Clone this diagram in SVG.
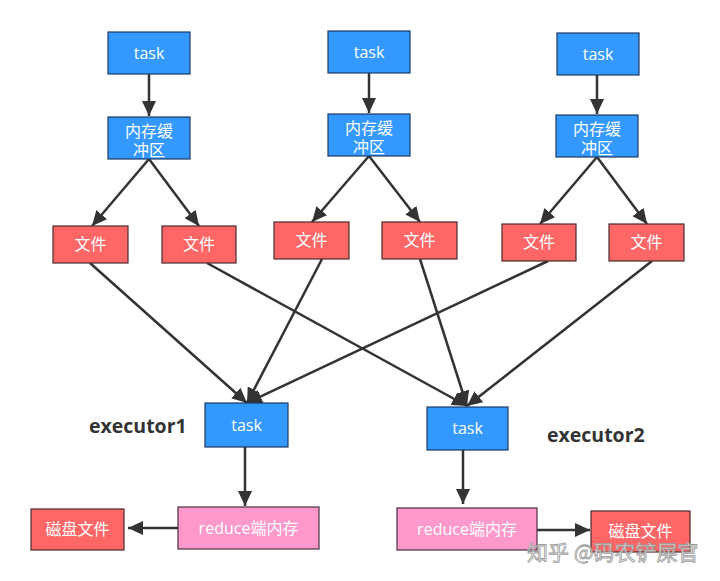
<svg xmlns="http://www.w3.org/2000/svg" width="720" height="581" viewBox="0 0 720 581">
<style>
.b{fill:#3399FF;stroke:#1d3a63;stroke-width:1.2}
.r{fill:#FF6666;stroke:#4a2a2a;stroke-width:1.2}
.p{fill:#FF99CC;stroke:#4a3040;stroke-width:1.2}
.t{font-family:"Open Sans","Noto Sans CJK SC",sans-serif;font-size:16px;fill:#fff;text-anchor:middle}
.lbl{font-family:"Open Sans","Noto Sans CJK SC",sans-serif;font-size:19.5px;font-weight:bold;fill:#333}
.e{stroke:#333;stroke-width:2.5;fill:none;marker-end:url(#ah)}
.wm{font-family:"Noto Sans CJK SC",sans-serif;font-size:21px;fill:#f4f4f4;fill-opacity:0.85;stroke:#9a9a9a;stroke-width:0.8}
</style>
<defs>
<marker id="ah" markerUnits="userSpaceOnUse" markerWidth="16" markerHeight="14" refX="15" refY="7" orient="auto">
<path d="M0,0 L15,7 L0,14 z" fill="#333"/>
</marker>
</defs>
<rect width="720" height="581" fill="#fff"/>
<g id="connectors">
<line class="e" x1="149" y1="74" x2="149" y2="116"/>
<line class="e" x1="369" y1="73" x2="369" y2="113"/>
<line class="e" x1="597" y1="75" x2="597" y2="114"/>
<line class="e" x1="149" y1="159" x2="92" y2="226"/>
<line class="e" x1="149" y1="159" x2="199" y2="226"/>
<line class="e" x1="369" y1="156" x2="312" y2="222"/>
<line class="e" x1="369" y1="156" x2="420" y2="222"/>
<line class="e" x1="597" y1="157" x2="540" y2="224"/>
<line class="e" x1="597" y1="157" x2="647" y2="224"/>
<line class="e" x1="90" y1="263" x2="247" y2="403"/>
<line class="e" x1="322" y1="259" x2="247" y2="403"/>
<line class="e" x1="548" y1="261" x2="247" y2="403"/>
<line class="e" x1="207" y1="263" x2="467" y2="406"/>
<line class="e" x1="420" y1="259" x2="467" y2="406"/>
<line class="e" x1="652" y1="261" x2="467" y2="406"/>
<line class="e" x1="245" y1="447" x2="245" y2="506"/>
<line class="e" x1="463" y1="450" x2="463" y2="504"/>
<line class="e" x1="178" y1="528" x2="128" y2="528"/>
<line class="e" x1="537" y1="530" x2="590" y2="530"/>
</g>
<g id="task1"><rect class="b" x="108" y="32" width="82" height="42"/><text class="t" x="149" y="58.5">task</text></g>
<g id="task2"><rect class="b" x="328" y="31" width="82" height="42"/><text class="t" x="369" y="57.5">task</text></g>
<g id="task3"><rect class="b" x="557" y="33" width="82" height="42"/><text class="t" x="598" y="59.5">task</text></g>
<g id="buffer1"><rect class="b" x="108" y="117" width="82" height="42"/><text class="t" x="149" y="136.5">内存缓</text><text class="t" x="149" y="156">冲区</text></g>
<g id="buffer2"><rect class="b" x="328" y="114" width="82" height="42"/><text class="t" x="369" y="133.5">内存缓</text><text class="t" x="369" y="153">冲区</text></g>
<g id="buffer3"><rect class="b" x="556" y="115" width="82" height="42"/><text class="t" x="597" y="134.5">内存缓</text><text class="t" x="597" y="154">冲区</text></g>
<g id="file1"><rect class="r" x="53" y="226" width="75" height="37"/><text class="t" x="90.5" y="250">文件</text></g>
<g id="file2"><rect class="r" x="162" y="226" width="74" height="37"/><text class="t" x="199" y="250">文件</text></g>
<g id="file3"><rect class="r" x="274" y="222" width="75" height="37"/><text class="t" x="311.5" y="246">文件</text></g>
<g id="file4"><rect class="r" x="382" y="222" width="75" height="37"/><text class="t" x="419.5" y="246">文件</text></g>
<g id="file5"><rect class="r" x="502" y="224" width="74" height="37"/><text class="t" x="539" y="248">文件</text></g>
<g id="file6"><rect class="r" x="609" y="224" width="75" height="37"/><text class="t" x="646.5" y="248">文件</text></g>
<g id="exec1-task"><rect class="b" x="205" y="403" width="83" height="44"/><text class="t" x="246.5" y="430.5">task</text></g>
<g id="exec2-task"><rect class="b" x="427" y="407" width="81" height="43"/><text class="t" x="467.5" y="434">task</text></g>
<g id="executor1"><text class="lbl" x="89" y="433">executor1</text></g>
<g id="executor2"><text class="lbl" x="547" y="442">executor2</text></g>
<g id="reduce1"><rect class="p" x="178" y="507" width="141" height="42"/><text class="t" x="248.5" y="533.5">reduce端内存</text></g>
<g id="reduce2"><rect class="p" x="397" y="508" width="140" height="42"/><text class="t" x="467" y="534.5">reduce端内存</text></g>
<g id="disk1"><rect class="r" x="31" y="509" width="93" height="41"/><text class="t" x="77.5" y="535">磁盘文件</text></g>
<g id="disk2"><rect class="r" x="591" y="511" width="99" height="41"/><text class="t" x="640.5" y="537">磁盘文件</text></g>
<text class="wm" x="527" y="560">知乎 @码农铲屎官</text>
</svg>
